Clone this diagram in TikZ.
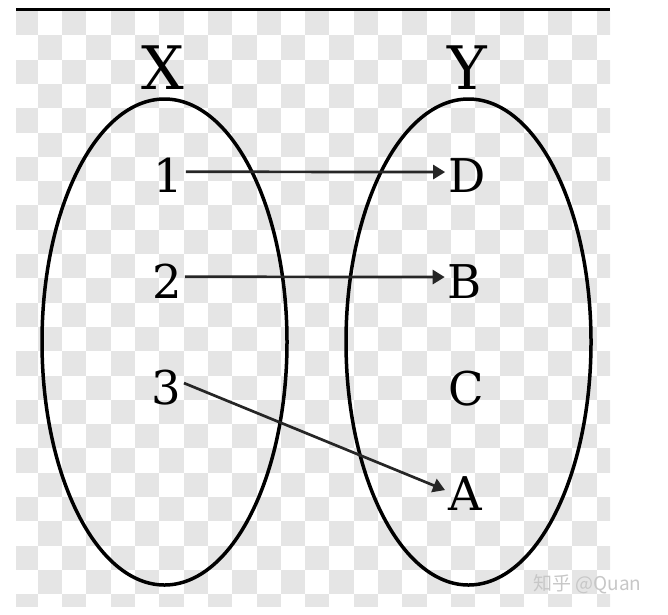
\documentclass[tikz,border=0pt]{standalone}
\usepackage{fontspec}
\setmainfont{DejaVu Serif}
\newfontfamily\cjkfont{Noto Sans CJK SC}
\usetikzlibrary{arrows.meta,positioning,calc,shapes.geometric}

\begin{document}
\begin{tikzpicture}[x=1pt,y=-1pt,
  setlbl/.style={font=\fontsize{60}{60}\selectfont,anchor=base,inner sep=0pt},
  elem/.style={font=\fontsize{46.5}{46.5}\selectfont,anchor=base,inner sep=3pt},
  setring/.style={draw,ellipse,line width=3.5pt,inner sep=0pt,
    minimum width=245pt,minimum height=486pt},
  mapto/.style={line width=2.7pt,black!85,-{Triangle[length=12pt,width=14pt]}}]
  \useasboundingbox (0,0) rectangle (668,614);
  % transparency checker behind the diagram
  \begin{scope}
    \clip (16,11) rectangle (610,606);
    \foreach \j in {0,...,24} {
      \pgfmathtruncatemacro\off{mod(\j,2)}
      \foreach \i in {0,2,...,24}
        \fill[gray!20] ({13.5+(\i+\off)*24.3},{11+\j*24.3}) rectangle +(24.3,24.3);
    }
  \end{scope}
  \draw[line width=3pt] (16,9.5) -- (610,9.5);

  \node[setring] (setX) at (164.5,342) {};
  \node[setring] (setY) at (468.5,342) {};
  \node[setlbl] (lblX) at (163,89) {X};
  \node[setlbl] (lblY) at (467,89) {Y};

  \node[elem] (n1) at (168,192) {1};
  \node[elem] (n2) at (167,298) {2};
  \node[elem] (n3) at (166,404) {3};
  \node[elem] (D) at (467,192) {D};
  \node[elem] (B) at (465,298) {B};
  \node[elem] (C) at (466,405) {C};
  \node[elem] (A) at (465,510) {A};

  \draw[mapto] ([yshift=3pt]n1.east) -- ([yshift=3pt]D.west);
  \draw[mapto] ([yshift=4pt]n2.east) -- ([yshift=4pt]B.west);
  \draw[mapto] ([yshift=4pt]n3.east) -- ([yshift=3pt]A.west);

  \node[font=\cjkfont\fontsize{19}{19}\selectfont,text=black!22,
    anchor=west,inner sep=0pt] (wm) at (533,584) {知乎 @Quan};
\end{tikzpicture}
\end{document}
